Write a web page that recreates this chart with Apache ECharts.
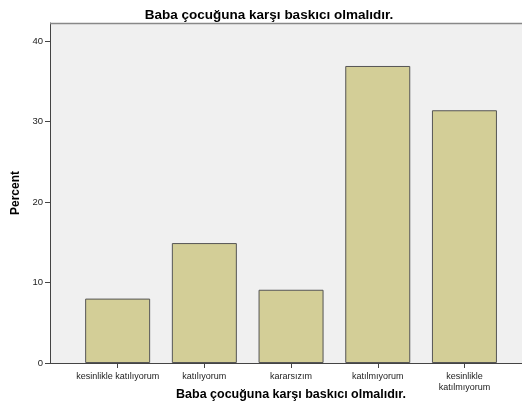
<!DOCTYPE html>
<html><head><meta charset="utf-8">
<script src="https://cdn.jsdelivr.net/npm/echarts@6/dist/echarts.min.js"></script>
<style>html,body{margin:0;padding:0;background:#fff}#c{width:522px;height:417px}</style>
</head><body><div id="c"></div>
<script>
const categories = ['kesinlikle katılıyorum', 'katılıyorum', 'kararsızım', 'katılmıyorum', 'kesinlikle\nkatılmıyorum'];
const percentValues = [8.0, 14.9, 9.1, 36.9, 31.4];
const titleText = 'Baba çocuğuna karşı baskıcı olmalıdır.';
const yAxisTitle = 'Percent';
const yMax = 42.24;

const font = 'Liberation Sans, Arial, sans-serif';
const chart = echarts.init(document.getElementById('c'), null, {renderer: 'canvas'});
chart.setOption({
  animation: false,
  backgroundColor: '#fff',
  title: [{
    text: titleText, left: 264, top: 3, textAlign: 'center',
    textStyle: {fontFamily: font, fontSize: 13.5, fontWeight: 'bold', color: '#000'}
  }, {
    text: titleText, left: 286, top: 383, textAlign: 'center',
    textStyle: {fontFamily: font, fontSize: 12.5, fontWeight: 'bold', color: '#000'}
  }],
  grid: [
    {left: 50, right: 0, top: 23, bottom: 54, show: true, backgroundColor: '#f0f0f0', borderWidth: 0, containLabel: false},
    {left: 74.3, width: 433.5, top: 23, bottom: 54, containLabel: false}
  ],
  xAxis: [
    {gridIndex: 0, type: 'value', min: 0, max: 1, axisLine: {show: true, lineStyle: {color: '#444', width: 1}},
     axisTick: {show: false}, axisLabel: {show: false}, splitLine: {show: false}},
    {gridIndex: 1, type: 'category', data: categories, boundaryGap: true,
     axisLine: {show: false}, axisTick: {show: true, alignWithLabel: true, length: 5, lineStyle: {color: '#444'}},
     axisLabel: {fontFamily: font, fontSize: 9, color: '#222', margin: 8, interval: 0, lineHeight: 11},
     splitLine: {show: false}}
  ],
  yAxis: [
    {gridIndex: 0, type: 'value', min: 0, max: yMax, interval: 10,
     name: yAxisTitle, nameLocation: 'middle', nameGap: 23, nameRotate: 90,
     nameTextStyle: {fontFamily: font, fontSize: 12, fontWeight: 'bold', color: '#000'},
     axisLine: {show: true, lineStyle: {color: '#444'}},
     axisTick: {show: true, length: 5, lineStyle: {color: '#444'}},
     axisLabel: {fontFamily: font, fontSize: 9.5, color: '#222', margin: 7, showMaxLabel: false,
       formatter: v => (Math.abs(v % 10) < 1e-9 ? String(v) : '')},
     splitLine: {show: false}},
    {gridIndex: 1, type: 'value', min: 0, max: yMax, show: false}
  ],
  graphic: [{
    type: 'line', shape: {x1: 50, y1: 23.5, x2: 522, y2: 23.5},
    style: {stroke: '#888', lineWidth: 1.5}, z: 10
  }],
  series: [{
    type: 'bar', xAxisIndex: 1, yAxisIndex: 1, data: percentValues, barWidth: 65,
    itemStyle: {color: '#d3ce97', borderColor: '#555', borderWidth: 1}
  }]
});
</script></body></html>
